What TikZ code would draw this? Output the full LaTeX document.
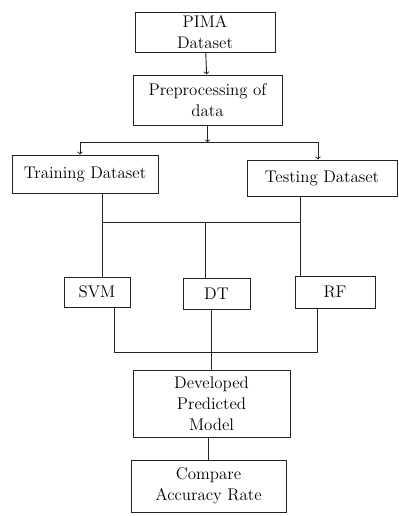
\documentclass[tikz,border=0pt]{standalone}
\usepackage{tikz}
\usetikzlibrary{arrows,positioning,calc}
\definecolor{penink}{RGB}{35,35,35}

\begin{document}
\begin{tikzpicture}[x=0.03cm, y=-0.03cm,
    blk/.style={draw=penink, rectangle, line width=0.8pt, align=center, font=\Large, inner sep=2pt},
    link/.style={draw=penink, line width=0.8pt}]
    \useasboundingbox (0,0) rectangle (398,516);
    % blocks
    \node[blk, minimum width=4.2cm, minimum height=1.2cm] (pima) at (205,32) {PIMA\\Dataset};
    \node[blk, minimum width=4.47cm, minimum height=1.5cm] (prep) at (207.5,100) {Preprocessing of\\data};
    \node[blk, minimum width=4.38cm, minimum height=1.14cm] (train) at (85,174) {Training Dataset};
    \node[blk, minimum width=4.5cm, minimum height=1.08cm] (test) at (322,178) {Testing Dataset};
    \node[blk, minimum width=1.98cm, minimum height=0.9cm] (svm) at (97,292) {SVM};
    \node[blk, minimum width=2.01cm, minimum height=0.93cm] (dt) at (216.5,293.5) {DT};
    \node[blk, minimum width=2.4cm, minimum height=0.96cm] (rf) at (335,292) {RF};
    \node[blk, minimum width=4.71cm, minimum height=2.01cm] (dev) at (211.5,403.5) {Developed\\Predicted\\Model};
    \node[blk, minimum width=4.65cm, minimum height=1.56cm] (cmp) at (208.5,486) {Compare\\Accuracy Rate};
    % split into the two datasets
    \draw[link, ->] (pima) -- (prep);
    \coordinate (split) at ($(prep.south)+(0,17)$);
    \coordinate (splitL) at (80,142);
    \coordinate (splitR) at (318,142);
    \draw[link, ->] (prep.south) -- (split);
    \draw[link] (splitL) -- (splitR);
    \draw[link, ->] (splitL) -- (splitL |- train.north);
    \draw[link, ->] (splitR) -- (splitR |- test.north);
    % feed the three classifiers
    \coordinate (mL) at (102,222);
    \coordinate (mM) at (205,222);
    \coordinate (mR) at (300,222);
    \draw[link] (mL |- train.south) -- (mL) -- (mR) -- (mR |- test.south);
    \draw[link] (mL) -- (mL |- svm.north);
    \draw[link] (mM) -- (mM |- dt.north);
    \draw[link] (mR) -- (mR |- rf.north);
    % join the results
    \coordinate (jL) at (114,352);
    \coordinate (jR) at (317,352);
    \draw[link] (jL |- svm.south) -- (jL) -- (jR) -- (jR |- rf.south);
    \draw[link] (dt.south -| dev.north) -- (dev.north);
    \draw[link] (cmp.north) -- (cmp.north |- dev.south);
\end{tikzpicture}
\end{document}
